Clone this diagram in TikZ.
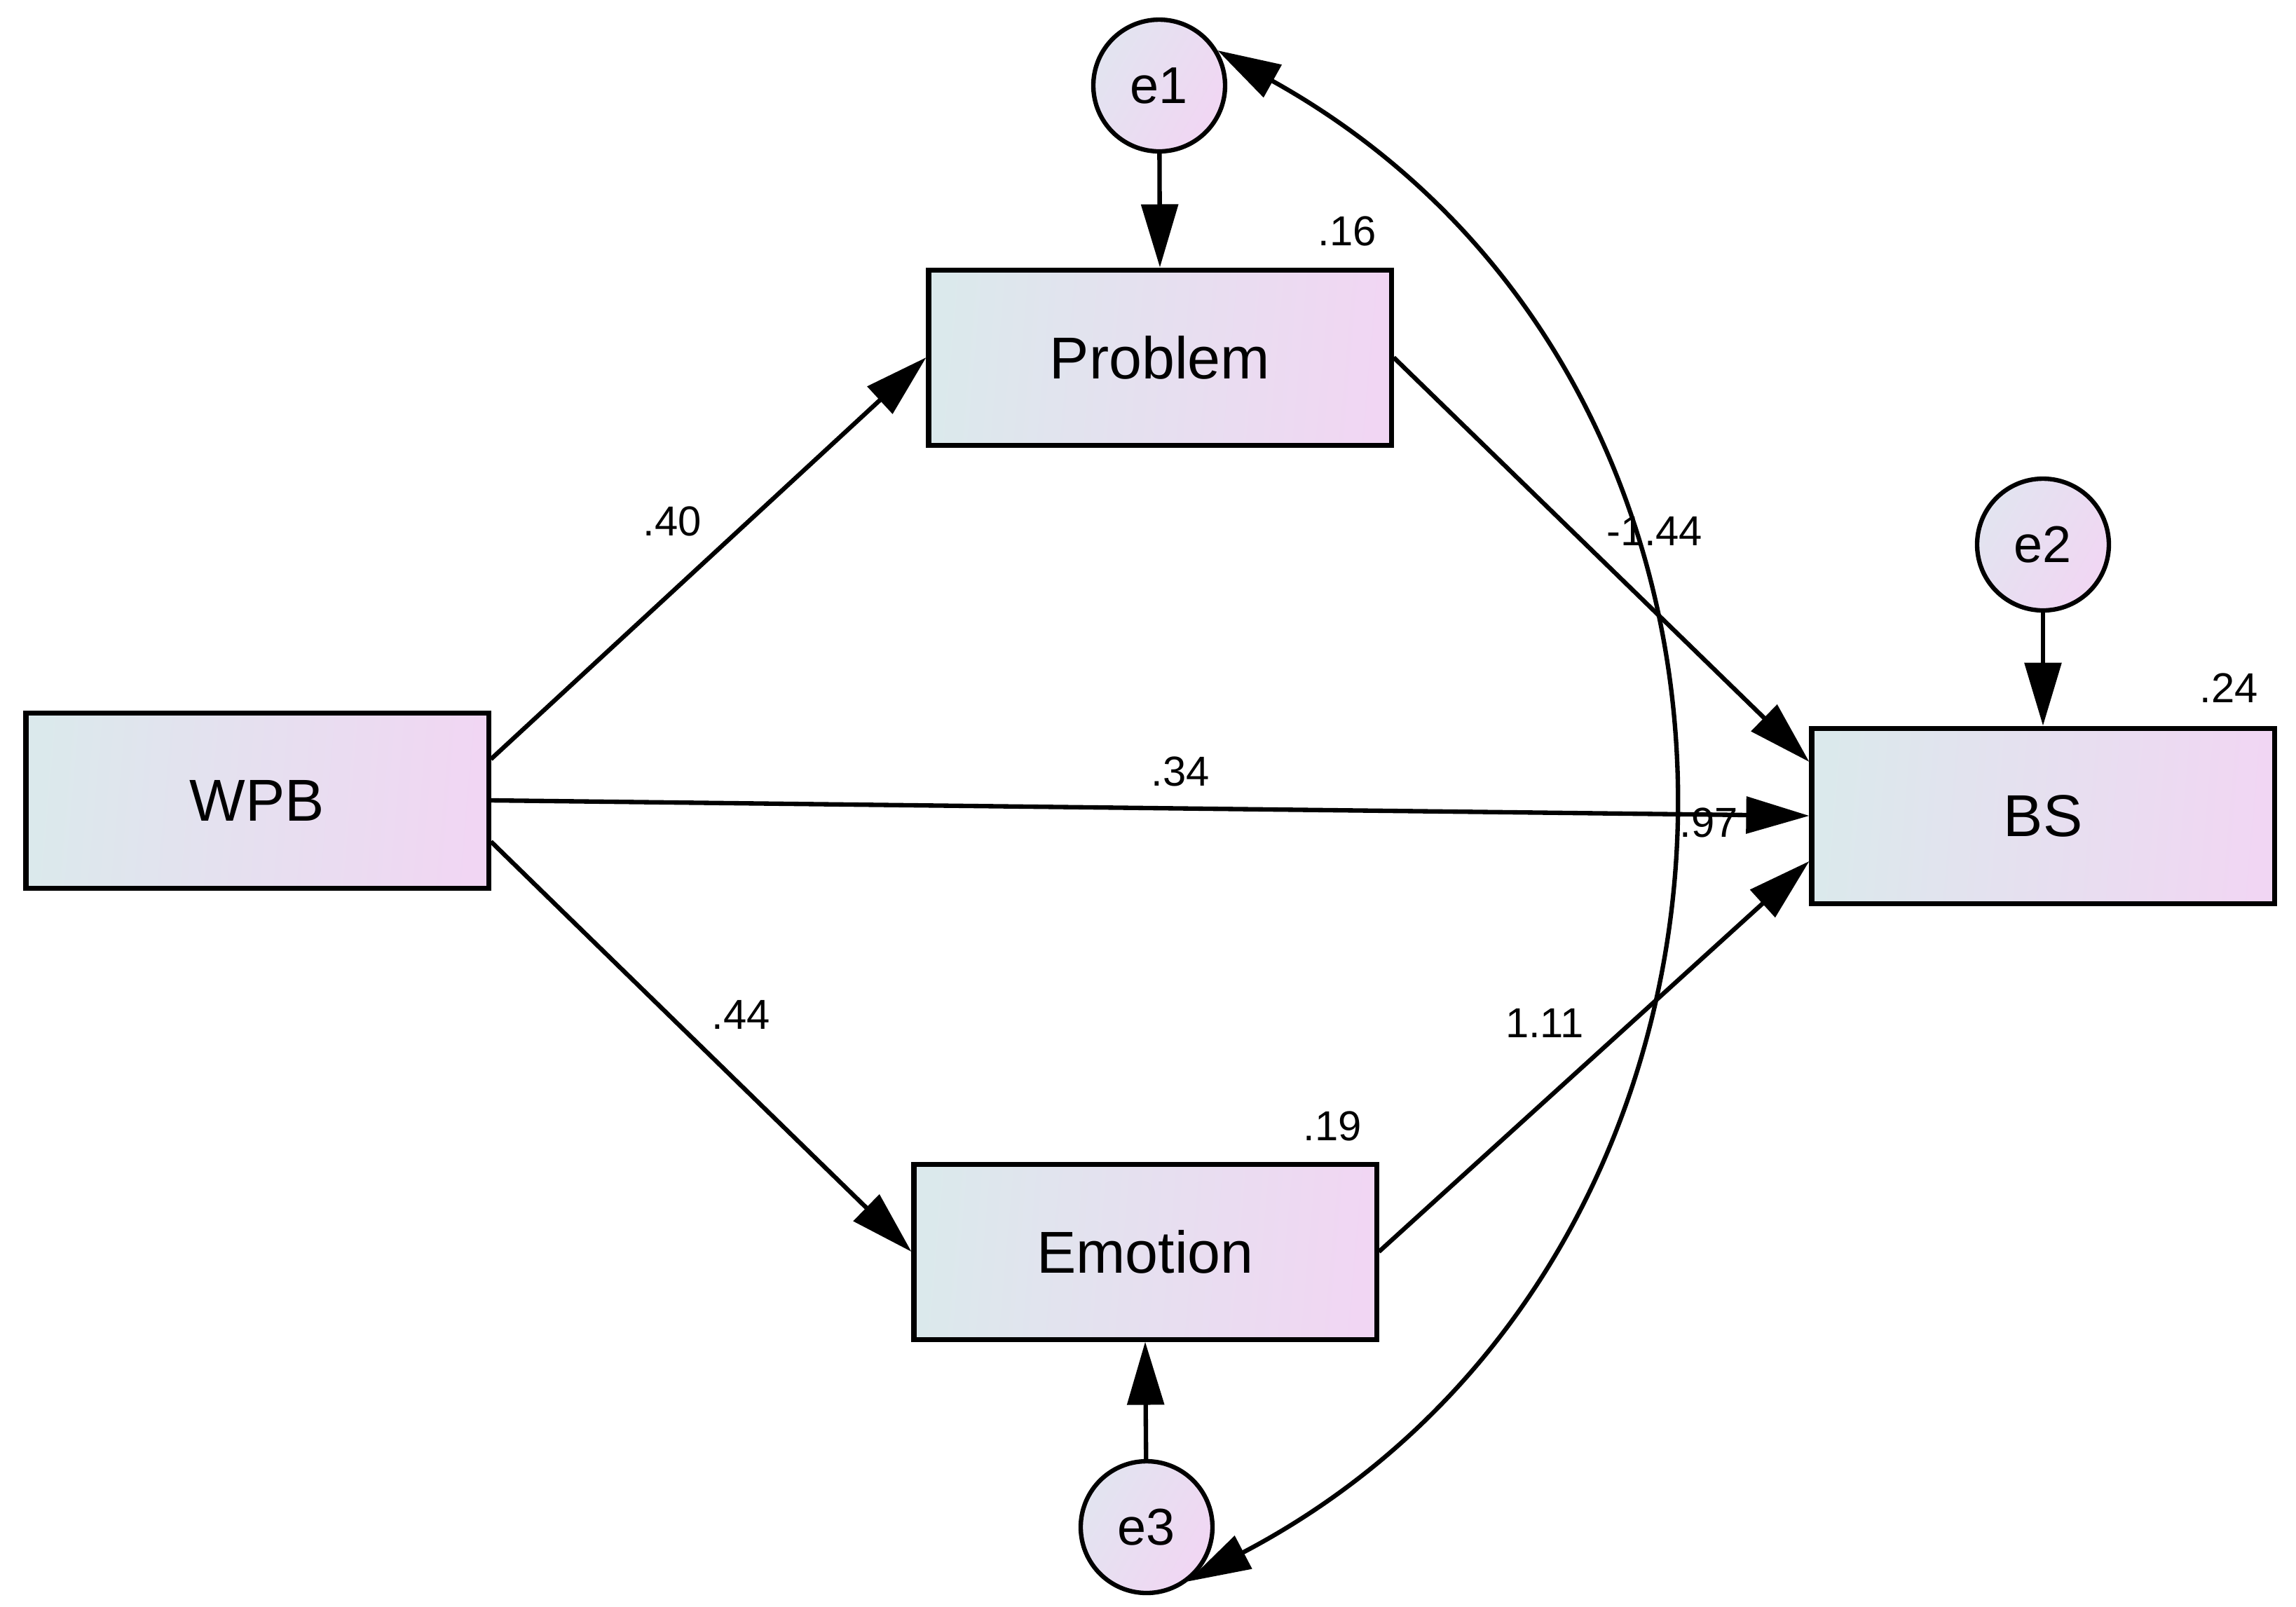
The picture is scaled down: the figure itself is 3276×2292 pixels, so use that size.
\documentclass[tikz,border=0pt]{standalone}
\usepackage{fontspec}
\setmainfont{Liberation Sans}
\usetikzlibrary{positioning,arrows.meta,calc}
\definecolor{boxl}{HTML}{DBE9EC}
\definecolor{boxr}{HTML}{F1D6F3}
\definecolor{cirl}{HTML}{E2E4F0}

\tikzset{
  var/.style={draw,line width=1pt,minimum width=3.3cm,minimum height=1.25cm,
    left color=boxl,right color=boxr,shading angle=85,
    font=\fontsize{12}{14}\selectfont},
  err/.style={circle,draw,line width=0.9pt,minimum size=0.94cm,inner sep=0pt,
    left color=cirl,right color=boxr,shading angle=60,
    font=\fontsize{10.5}{12}\selectfont},
  est/.style={inner sep=0pt,font=\fontsize{8.5}{10}\selectfont},
  reg/.style={line width=0.9pt,-{Triangle[length=4.5mm,width=2.6mm]}},
  cov/.style={line width=0.9pt,
    {Triangle[length=4.5mm,width=2.6mm]}-{Triangle[length=4.5mm,width=2.6mm]}}
}

\begin{document}
\begin{tikzpicture}[x=0.05mm,y=-0.05mm]
  \useasboundingbox (0,0) rectangle (3276,2292);
  % 观测变量
  \node[var] (wpb) at (367,1142) {WPB};
  \node[var] (prob) at (1655,510) {Problem};
  \node[var] (emo) at (1634,1786) {Emotion};
  \node[var] (bs) at (2915,1164) {BS};
  % 残差
  \node[err] (e1) at (1654,122) {e1};
  \node[err] (e2) at (2915,777) {e2};
  \node[err] (e3) at (1636,2179) {e3};

  \draw[reg] (e1) -- (prob.north);
  \draw[reg] (e2) -- (bs.north);
  \draw[reg] (e3) -- (emo.south);
  \draw[reg] (wpb.10) -- (prob.west);
  \draw[reg] (wpb.-10) -- (emo.west);
  \draw[reg] (wpb.east) -- (bs.west);
  \draw[reg] (prob.east) -- (bs.167);
  \draw[reg] (emo.east) -- (bs.191);
  % e1 与 e3 的协方差
  \draw[cov] (e1.31) .. controls (2613,559) and (2575,1795) .. (e3.-53);

  % 估计值
  \node[est] (r2prob) at (1922,330) {.16};
  \node[est] (r2emo) at (1901,1607) {.19};
  \node[est] (r2bs) at (3180,982) {.24};
  \node[est] (bwp) at (959,744) {.40};
  \node[est] (bwe) at (1057,1448) {.44};
  \node[est] (bwb) at (1684,1101) {.34};
  \node[est] (bpb) at (2361,758) {-1.44};
  \node[est] (beb) at (2204,1460) {1.11};
  \node[est] (ce) at (2438,1174) {.97};
\end{tikzpicture}
\end{document}
